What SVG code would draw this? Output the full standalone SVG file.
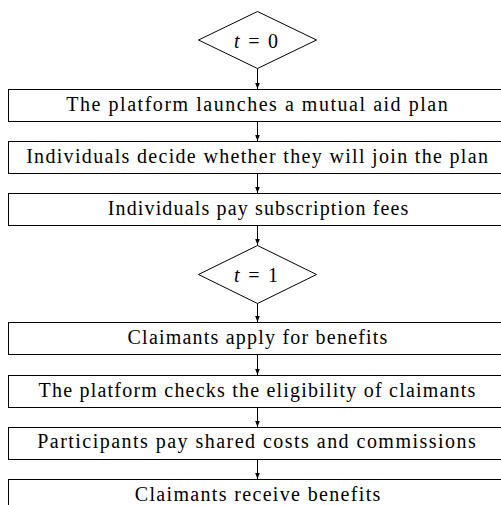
<svg xmlns="http://www.w3.org/2000/svg" width="501" height="505" viewBox="0 0 501 505">
  <style>
    .box { fill: #ffffff; stroke: #000000; stroke-width: 1; }
    .dia { fill: #ffffff; stroke: #000000; stroke-width: 1; }
    .lbl { font-family: "Liberation Serif", "Times New Roman", serif; font-size: 20px; fill: #000000; text-anchor: middle; }
    .edge { stroke: #000000; stroke-width: 1; fill: none; marker-end: url(#head); }
  </style>
  <defs>
    <marker id="head" markerUnits="userSpaceOnUse" markerWidth="8" markerHeight="6" refX="6.5" refY="2.5" orient="auto">
      <path d="M0,0 L6.5,2.5 L0,5 z" fill="#000000"/>
    </marker>
  </defs>
  <rect width="501" height="505" fill="#ffffff"/>

  <!-- flow connectors -->
  <g id="connectors">
    <line class="edge" x1="257.5" y1="68.5" x2="257.5" y2="89"/>
    <line class="edge" x1="257.5" y1="121.5" x2="257.5" y2="141"/>
    <line class="edge" x1="257.5" y1="173.5" x2="257.5" y2="193"/>
    <line class="edge" x1="257.5" y1="225.5" x2="257.5" y2="245"/>
    <line class="edge" x1="257.5" y1="303.5" x2="257.5" y2="322"/>
    <line class="edge" x1="257.5" y1="354.5" x2="257.5" y2="375"/>
    <line class="edge" x1="257.5" y1="407.5" x2="257.5" y2="427"/>
    <line class="edge" x1="257.5" y1="459.5" x2="257.5" y2="479"/>
  </g>

  <!-- period t = 0 -->
  <g id="t0">
    <polygon class="dia" points="257.5,11.5 316.5,40 257.5,68.5 198.5,40"/>
    <text class="lbl" x="257" y="47.5" letter-spacing="1.8"><tspan font-style="italic">t</tspan> = 0</text>
  </g>

  <g id="launch">
    <rect class="box" x="8.5" y="89.5" width="500" height="32"/>
    <text class="lbl" x="257.8" y="110.5" letter-spacing="1.53">The platform launches a mutual aid plan</text>
  </g>

  <g id="decide">
    <rect class="box" x="8.5" y="141.5" width="500" height="32"/>
    <text class="lbl" x="257.7" y="162.5" letter-spacing="1.32">Individuals decide whether they will join the plan</text>
  </g>

  <g id="pay-fees">
    <rect class="box" x="8.5" y="193.5" width="500" height="32"/>
    <text class="lbl" x="258.6" y="214.5" letter-spacing="1.15">Individuals pay subscription fees</text>
  </g>

  <!-- period t = 1 -->
  <g id="t1">
    <polygon class="dia" points="257.5,245.5 316.5,274.5 257.5,303.5 198.5,274.5"/>
    <text class="lbl" x="257" y="282" letter-spacing="1.8"><tspan font-style="italic">t</tspan> = 1</text>
  </g>

  <g id="apply">
    <rect class="box" x="8.5" y="322.5" width="500" height="32"/>
    <text class="lbl" x="258.1" y="344" letter-spacing="1.21">Claimants apply for benefits</text>
  </g>

  <g id="check">
    <rect class="box" x="8.5" y="375.5" width="500" height="32"/>
    <text class="lbl" x="257.6" y="396.5" letter-spacing="1.21">The platform checks the eligibility of claimants</text>
  </g>

  <g id="share-costs">
    <rect class="box" x="8.5" y="427.5" width="500" height="32"/>
    <text class="lbl" x="257.2" y="448" letter-spacing="1.47">Participants pay shared costs and commissions</text>
  </g>

  <g id="receive">
    <rect class="box" x="8.5" y="479.5" width="500" height="32"/>
    <text class="lbl" x="258.2" y="500.5" letter-spacing="1.34">Claimants receive benefits</text>
  </g>
</svg>
